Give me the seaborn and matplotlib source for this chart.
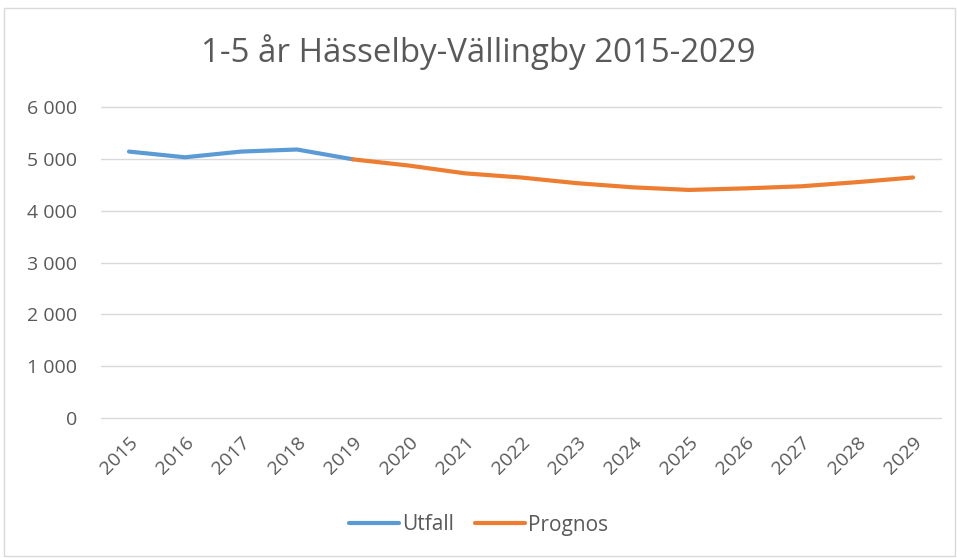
import pandas as pd
import matplotlib.pyplot as plt
import seaborn as sns
from matplotlib.lines import Line2D
from matplotlib.patches import Rectangle

# data
years_utfall = [2015, 2016, 2017, 2018, 2019]
utfall = [5140, 5030, 5140, 5180, 4990]
years_prognos = [2019, 2020, 2021, 2022, 2023, 2024, 2025, 2026, 2027, 2028, 2029]
prognos = [4990, 4870, 4720, 4640, 4530, 4450, 4400, 4430, 4470, 4550, 4640]
y_ticks = [0, 1000, 2000, 3000, 4000, 5000, 6000]
all_years = list(range(2015, 2030))

df = pd.concat([
    pd.DataFrame({"År": years_utfall, "Antal": utfall, "Serie": "Utfall"}),
    pd.DataFrame({"År": years_prognos, "Antal": prognos, "Serie": "Prognos"}),
])

colors = {"Utfall": "#5B9BD5", "Prognos": "#ED7D31"}
text_color = "#595959"

sns.set_theme(style="white")
plt.rcParams["font.family"] = ["Open Sans", "DejaVu Sans"]

fig = plt.figure(figsize=(9.57, 5.58), dpi=100)
ax = fig.add_axes([101 / 957, 1 - 418 / 558, 840 / 957, 311 / 558])

sns.lineplot(data=df, x="År", y="Antal", hue="Serie", palette=colors,
             linewidth=3.0, ax=ax, legend=False)
for line in ax.get_lines():
    line.set_solid_capstyle("round")

ax.set_xlim(2014.5, 2029.5)
ax.set_ylim(0, 6000)
ax.set_yticks(y_ticks)
ax.set_yticklabels([f"{v:,}".replace(",", " ") for v in y_ticks])
ax.set_xticks(all_years)
ax.grid(axis="y", color="#D9D9D9", linewidth=1)
for gl in ax.get_ygridlines():
    gl.set_clip_on(False)
ax.set_axisbelow(True)
for s in ax.spines.values():
    s.set_visible(False)
ax.tick_params(axis="both", length=0, colors=text_color, labelsize=14)
ax.tick_params(axis="y", pad=17)
ax.tick_params(axis="x", pad=11)
plt.setp(ax.get_xticklabels(), rotation=45, ha="right", rotation_mode="anchor")
ax.set_xlabel("")
ax.set_ylabel("")

fig.text(0.5, 1 - 52 / 558, "1-5 år Hässelby-Vällingby 2015-2029",
         ha="center", va="center", fontsize=23.8, color=text_color)

handles = [Line2D([], [], color=colors["Utfall"], lw=3.0, solid_capstyle="round"),
           Line2D([], [], color=colors["Prognos"], lw=3.0, solid_capstyle="round")]
fig.legend(handles, ["Utfall", "Prognos"], loc="center",
           bbox_to_anchor=(0.5, 1 - 525 / 558), ncol=2, frameon=False,
           fontsize=15, handlelength=2.4, columnspacing=1.0, handletextpad=0.15,
           labelcolor=text_color)

# outer frame
fig.patches.append(Rectangle((4 / 957, 2 / 558), 1 - 6 / 957, 1 - 10 / 558,
                             transform=fig.transFigure, fill=False,
                             edgecolor="#D9D9D9", linewidth=1))

fig.savefig("out.png", dpi=100)
